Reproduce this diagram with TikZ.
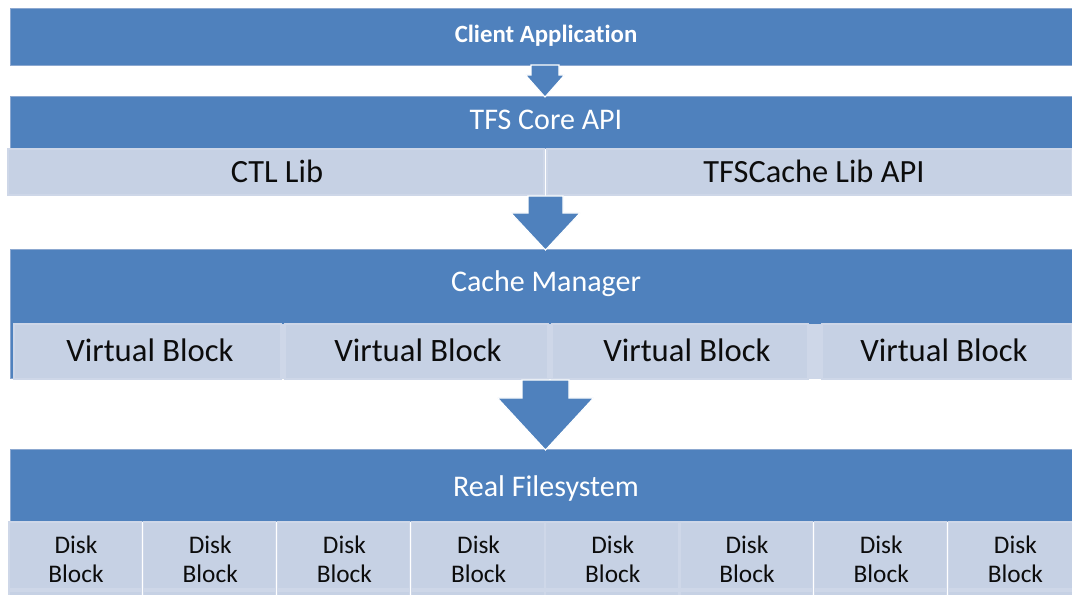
\documentclass[tikz,border=0pt]{standalone}
\usepackage{fontspec}
\setmainfont[Ligatures=CommonOff]{Carlito}
\definecolor{barblue}{RGB}{79,129,189}
\definecolor{barrim}{RGB}{140,168,208}
\definecolor{cellfill}{RGB}{198,209,228}
\definecolor{cellrim}{RGB}{206,215,232}
\definecolor{celltext}{RGB}{12,12,12}
\tikzset{
  bar/.style={fill=barblue, draw=barrim, line width=0.5pt},
  cell/.style={fill=cellfill, draw=cellrim, line width=0.8pt},
  gapband/.style={fill=cellrim},
  darktext/.style={text=white, inner sep=0pt, anchor=base},
  celllabel/.style={text=celltext, inner sep=0pt, anchor=base},
  flowarrow/.style={fill=barblue, draw=white, line width=0.8pt, line join=miter},
}
% block arrow pointing down: centre x, top, head start, tip, shaft half width, head half width
\newcommand{\downarrowshape}[6]{%
  \draw[flowarrow] (#1-#5,#2) -- (#1+#5,#2) -- (#1+#5,#3) -- (#1+#6,#3)
    -- (#1,#4) -- (#1-#6,#3) -- (#1-#5,#3) -- cycle;}
\begin{document}
\begin{tikzpicture}[x=0.75pt, y=-0.75pt]
\useasboundingbox (0,0) rectangle (1072,595);

% ---------- Client application ----------
\path[bar] (10,8) rectangle (1072,65);
\node[darktext, font=\fontsize{18.6}{22}\selectfont\bfseries] (client) at (546,43) {Client Application};

% ---------- TFS core ----------
\path[bar] (10,96) rectangle (1072,148);
\node[darktext, font=\fontsize{22.5}{26}\selectfont] (core) at (546,130) {TFS Core API};
\path[cell] (8,149) rectangle (544,195);
\path[cell] (547,149) rectangle (1072,195);
\node[celllabel, font=\fontsize{24.3}{28}\selectfont] (ctl) at (277,183) {CTL Lib};
\node[celllabel, font=\fontsize{24.3}{28}\selectfont] (tfscache) at (814,183) {TFSCache Lib API};

% ---------- Cache manager ----------
\path[bar] (10,249) rectangle (1072,378);
\node[darktext, font=\fontsize{22.5}{26}\selectfont] (cachemgr) at (546,292) {Cache Manager};
\path[gapband] (14,324) rectangle (1072,379);
\foreach \l/\r/\c [count=\i] in {14/281/150, 285/548/418, 552/808/687, 822/1072/944}{
  \path[cell] (\l,324) rectangle (\r,379);
  \node[celllabel, font=\fontsize{24.5}{28}\selectfont] (vb\i) at (\c,362) {Virtual Block};
}

% ---------- Real filesystem ----------
\path[bar] (10,449) rectangle (1072,521);
\node[darktext, font=\fontsize{22.5}{26}\selectfont] (realfs) at (546,497) {Real Filesystem};
\foreach \i in {0,...,7}{
  \pgfmathsetmacro{\l}{9+134.2*\i}
  \pgfmathsetmacro{\r}{\l+132.5}
  \pgfmathsetmacro{\c}{\l+67}
  \path[cell] (\l,522) rectangle (\r,589);
  \path[cell] (\l,591) rectangle (\r,600);
  \node[celllabel, align=center, font=\fontsize{19}{21.75}\selectfont] (db\i) at (\c,582) {Disk\\Block};
}

% ---------- flow arrows between layers ----------
\downarrowshape{545}{65}{75}{97}{14}{19.5}
\downarrowshape{545.5}{196}{213}{250}{17.5}{34.5}
\downarrowshape{545.5}{380}{398}{450}{23.5}{48}
\end{tikzpicture}
\end{document}
